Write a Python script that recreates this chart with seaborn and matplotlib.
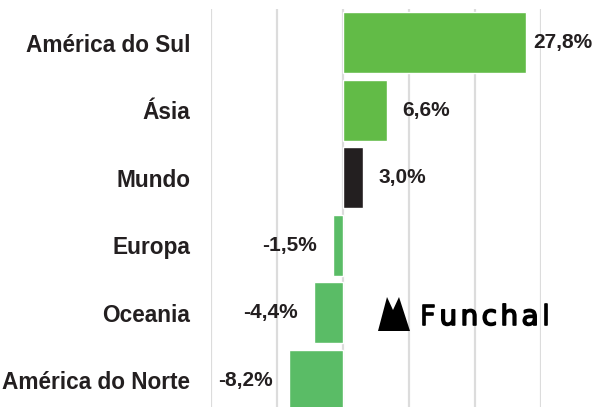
import matplotlib
matplotlib.use("Agg")
import matplotlib.pyplot as plt
import matplotlib.patheffects as pe
from matplotlib.patches import Polygon
import seaborn as sns
import pandas as pd

# Data
regions = ["América do Sul", "Ásia", "Mundo", "Europa", "Oceania", "América do Norte"]
growth = [27.8, 6.6, 3.0, -1.5, -4.4, -8.2]
value_labels = ["27,8%", "6,6%", "3,0%", "-1,5%", "-4,4%", "-8,2%"]

POS_GREEN = "#62bb47"
NEG_GREEN = "#5abc66"
WORLD = "#231f20"

df = pd.DataFrame({"region": regions, "growth": growth})
bar_colors = [WORLD if r == "Mundo" else (POS_GREEN if g >= 0 else NEG_GREEN)
              for r, g in zip(regions, growth)]

sns.set_theme(style="white")
plt.rcParams["font.family"] = ["Liberation Sans", "DejaVu Sans"]

fig = plt.figure(figsize=(5.99, 4.07), dpi=100)
W, H = 599, 407
ax = fig.add_axes([211 / W, -7 / H, 330 / W, 405 / H])

sns.barplot(data=df, x="growth", y="region", hue="region", palette=bar_colors,
            order=regions, legend=False, width=0.9, orient="h", saturation=1,
            edgecolor="white", linewidth=1, zorder=3, ax=ax)

ax.set_xlim(-20, 30)
ax.set_ylim(5.5, -0.5)
ax.set_xticks([-20, -10, 0, 10, 20, 30])
ax.xaxis.grid(True, color="#dcdcdc", linewidth=1.6, zorder=0)
ax.set_axisbelow(True)
ax.tick_params(axis="x", labelbottom=False, length=0)
ax.tick_params(axis="y", length=0, pad=15)
for lbl in ax.get_yticklabels():
    lbl.set_fontsize(16.3)
    lbl.set_fontweight("bold")
    lbl.set_color("#231f20")
ax.set_xlabel("")
ax.set_ylabel("")
sns.despine(ax=ax, left=True, bottom=True)

# value labels next to the bars
for i, (g, txt) in enumerate(zip(growth, value_labels)):
    pad = 7 if i == 0 else 16
    ax.annotate(txt, xy=(g, i), xytext=(pad if g >= 0 else -pad, 0),
                textcoords="offset pixels", va="center",
                ha="left" if g >= 0 else "right",
                fontsize=15, fontweight="bold", color="#231f20",
                annotation_clip=False)

# Funchal watermark: two peaks plus letter-spaced word
peaks = [(378, 331), (387, 297), (393, 310), (399, 297), (410, 331)]
fig.add_artist(Polygon([(x / W, 1 - y / H) for x, y in peaks], closed=True,
                       facecolor="black", edgecolor="none",
                       transform=fig.transFigure))
renderer = fig.canvas.get_renderer()
x_px = 420
for ch in "Funchal":
    t = fig.text(x_px / W, 1 - 317 / H, ch, fontsize=20,
                 family=["DejaVu Sans"], color="black", va="center", ha="left",
                 path_effects=[pe.withStroke(linewidth=1.2, foreground="black")])
    x_px += t.get_window_extent(renderer).width + 3.5

fig.savefig("out.png", dpi=100)
